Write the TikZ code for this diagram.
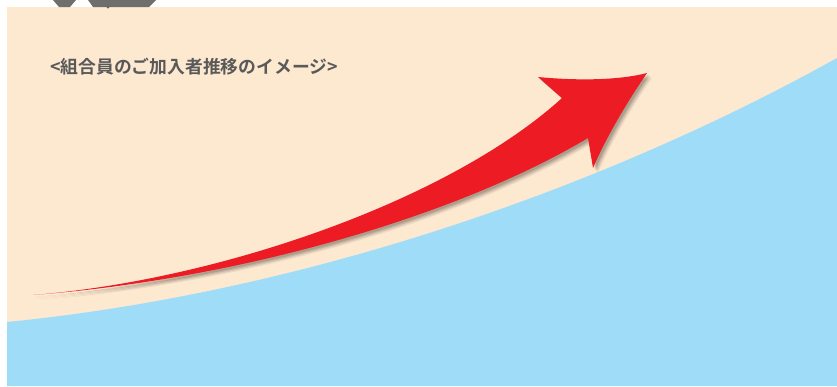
\documentclass[tikz,border=0pt]{standalone}
\usepackage{fontspec}
\newfontfamily\jpfont{Noto Sans CJK JP}[BoldFont={Noto Sans CJK JP Bold}]
\definecolor{peach}{RGB}{253,232,208}
\definecolor{sky}{RGB}{159,220,247}
\definecolor{arrowred}{RGB}{237,28,36}
\definecolor{textgray}{RGB}{89,89,89}
\definecolor{topgray}{RGB}{110,110,110}
\tikzset{
  title/.style={anchor=west, text=textgray, font=\jpfont\bfseries\fontsize{17.8}{20}\selectfont, inner sep=0pt},
  bigarrow/.pic={
    \fill (33,295) .. controls (220,280) and (450,200) .. (562,98)
      -- (538,77) .. controls (580,81) and (620,80) .. (647,73)
      .. controls (625,105) and (605,140) .. (593,168)
      -- (588,138) .. controls (450,220) and (230,280) .. (33,295) -- cycle;
  }
}
\begin{document}
\begin{tikzpicture}[x=1pt,y=-1pt]
\useasboundingbox (0,0) rectangle (837,386);
% background
\fill[peach] (7,7) rectangle (837,386);
\fill[topgray] (53,0) -- (76,0) -- (70,7) -- (59,7) -- cycle;
\fill[topgray] (88,0) -- (156,0) -- (149,7) -- (93,7) -- cycle;
\fill[black!60] (108,7) circle (1.5);
% rising band
\fill[sky] (7,322) .. controls (300,293) and (600,190) .. (837,58) -- (837,386) -- (7,386) -- cycle;
% arrow with soft shadow
\foreach \d/\o in {5/0.06,4/0.08,3/0.1,2/0.12}
  \pic[fill=black, opacity=\o, xshift=\d, yshift=-\d] {bigarrow};
\pic[fill=arrowred] {bigarrow};
\node[title] (caption) at (50,67) {<組合員のご加入者推移のイメージ>};
\end{tikzpicture}
\end{document}
